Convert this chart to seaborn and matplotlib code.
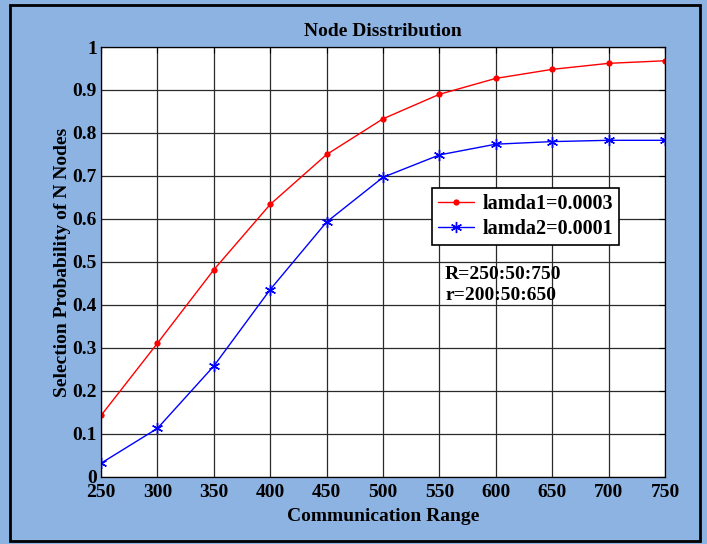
import numpy as np
import pandas as pd
import matplotlib
matplotlib.use("Agg")
import matplotlib.pyplot as plt
import seaborn as sns

ranges = [250, 300, 350, 400, 450, 500, 550, 600, 650, 700, 750]
lamda1 = [0.143, 0.311, 0.482, 0.634, 0.750, 0.833, 0.890, 0.927, 0.948, 0.962, 0.968]
lamda2 = [0.032, 0.113, 0.258, 0.436, 0.593, 0.697, 0.749, 0.774, 0.780, 0.783, 0.783]
labels = ["lamda1=0.0003", "lamda2=0.0001"]
yticks = [0, 0.1, 0.2, 0.3, 0.4, 0.5, 0.6, 0.7, 0.8, 0.9, 1]
ytick_labels = ["0", "0.1", "0.2", "0.3", "0.4", "0.5", "0.6", "0.7", "0.8", "0.9", "1"]

sns.set_style("white")
plt.rcParams['font.family'] = ['Liberation Serif', 'DejaVu Serif']
plt.rcParams['font.weight'] = 'bold'
plt.rcParams['text.color'] = 'black'
plt.rcParams['axes.labelcolor'] = 'black'
plt.rcParams['xtick.color'] = 'black'
plt.rcParams['ytick.color'] = 'black'

bg = '#8DB3E2'
fig = plt.figure(figsize=(7.07, 5.44), dpi=100, facecolor=bg)
ax = fig.add_axes([0.1429, 0.1232, 0.7977, 0.7904])
ax.set_facecolor('white')

df = pd.DataFrame({
    "range": ranges * 2,
    "prob": lamda1 + lamda2,
    "series": [labels[0]] * len(ranges) + [labels[1]] * len(ranges),
})

sns.lineplot(data=df[df.series == labels[0]], x="range", y="prob", color='red',
             marker='o', markersize=4.5, markeredgewidth=0, markerfacecolor='red',
             linewidth=1.0, label=labels[0], ax=ax)
sns.lineplot(data=df[df.series == labels[1]], x="range", y="prob", color='blue',
             marker=(6, 2, 0), markersize=8, markeredgewidth=1.0,
             markeredgecolor='blue', markerfacecolor='blue',
             linewidth=1.0, label=labels[1], ax=ax)

ax.set_xlim(250, 750)
ax.set_ylim(0, 1)
ax.set_xticks(ranges)
ax.set_xticklabels([str(r) for r in ranges])
ax.set_yticks(yticks)
ax.set_yticklabels(ytick_labels)
ax.tick_params(axis='both', direction='in', length=4, width=0.8, labelsize=14,
               top=True, right=True, colors='black')
ax.tick_params(axis='x', pad=5)
ax.tick_params(axis='y', pad=3)
for lab in ax.get_xticklabels() + ax.get_yticklabels():
    lab.set_fontweight('bold')
ax.grid(True, color='#2a2a2a', linestyle='-', linewidth=0.9)
ax.set_axisbelow(True)
for s in ax.spines.values():
    s.set_color('black')
    s.set_linewidth(0.9)

ax.set_xlabel("Communication Range", fontsize=14, fontweight='bold', labelpad=5)
ax.set_ylabel("Selection Probability of N Nodes", fontsize=14, fontweight='bold', labelpad=1)
ax.set_title("Node Disstribution", fontsize=14, fontweight='bold', pad=8)

leg = ax.legend(loc='upper left', bbox_to_anchor=(0.587, 0.672), fontsize=14.5,
                frameon=True, fancybox=False, edgecolor='black', framealpha=1,
                handlelength=1.8, borderpad=0.3, labelspacing=0.25, handletextpad=0.4,
                borderaxespad=0)
leg.get_frame().set_linewidth(1.2)
for t in leg.get_texts():
    t.set_fontweight('bold')

ax.text(0.61, 0.49, "R=250:50:750\nr=200:50:650", transform=ax.transAxes,
        fontsize=14, fontweight='bold', va='top', ha='left', linespacing=1.3)

fig.add_artist(plt.Rectangle((0.0148, 0.005), 0.975, 0.985, transform=fig.transFigure,
                             fill=False, edgecolor='black', linewidth=2))

fig.savefig("out.png", dpi=100, facecolor=bg)
